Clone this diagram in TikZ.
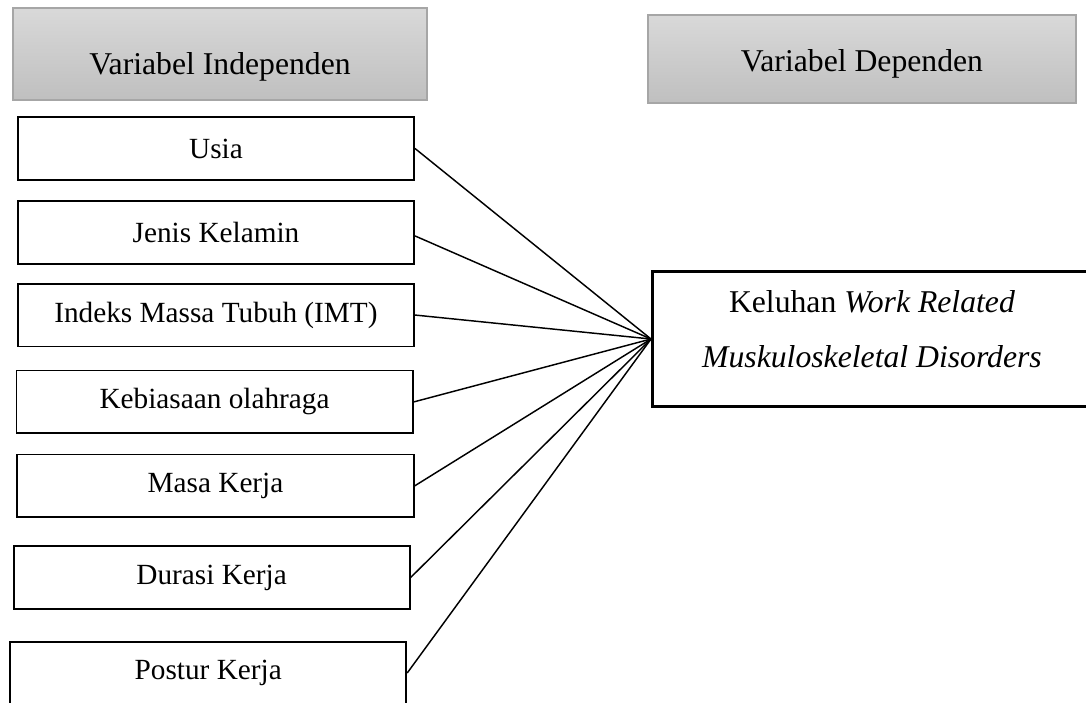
\documentclass[tikz,border=0pt]{standalone}
\usepackage{fontspec}
\setmainfont{Liberation Serif}
\tikzset{every node/.style={font=\fontsize{12}{14}\selectfont}}
\tikzset{factor/.style={draw,line width=0.8pt,minimum width=162.4pt,minimum height=25.8pt,inner sep=0pt}}
\tikzset{header/.style={draw=gray!70,line width=0.8pt,top color=gray!30,bottom color=gray!50,font=\fontsize{13}{15}\selectfont,text depth=0pt,inner sep=0pt}}
\tikzset{outcome/.style={draw,line width=1.2pt,align=center,inner sep=0pt,font=\fontsize{13}{22.5}\selectfont}}
\tikzset{link/.style={line width=0.6pt}}

\begin{document}
\begin{tikzpicture}[x=0.41pt,y=-0.41pt,node distance=34.44pt]
\useasboundingbox (0,0) rectangle (1086,702);

\node[header,minimum width=169.7pt,minimum height=37.7pt,text height=17.2pt] (indep) at (220,54) {Variabel Independen};
\node[header,minimum width=175.5pt,minimum height=36.1pt,text height=10.6pt] (dep) at (862,59) {Variabel Dependen};

\node[outcome,anchor=west,minimum width=180pt,minimum height=55pt,text depth=8pt] (keluhan) at (651,339) {Keluhan \textit{Work Related}\\\textit{Muskuloskeletal Disorders}};

\node[factor] (usia) at (216,148.5) {Usia};
\node[factor] [below of=usia] (kelamin) {Jenis Kelamin};
\node[factor] [below of=kelamin,yshift=0.6pt] (imt) {Indeks Massa Tubuh (IMT)};
\node[factor] [below of=imt,xshift=-0.6pt,yshift=-1.2pt] (olahraga) {Kebiasaan olahraga};
\node[factor] [below of=olahraga,xshift=0.4pt] (masa) {Masa Kerja};
\node[factor] [below of=masa,xshift=-1.6pt,yshift=-3.1pt] (durasi) {Durasi Kerja};
\node[factor] [below of=durasi,xshift=-1.4pt,yshift=-4.7pt] (postur) {Postur Kerja};

\draw[link] (usia.east) -- (keluhan.west);
\draw[link] ([yshift=-1.4pt]kelamin.east) -- (keluhan.west);
\draw[link] (imt.east) -- (keluhan.west);
\draw[link] (olahraga.east) -- (keluhan.west);
\draw[link] (masa.east) -- (keluhan.west);
\draw[link] (durasi.east) -- (keluhan.west);
\draw[link] (postur.east) -- (keluhan.west);

\end{tikzpicture}
\end{document}
